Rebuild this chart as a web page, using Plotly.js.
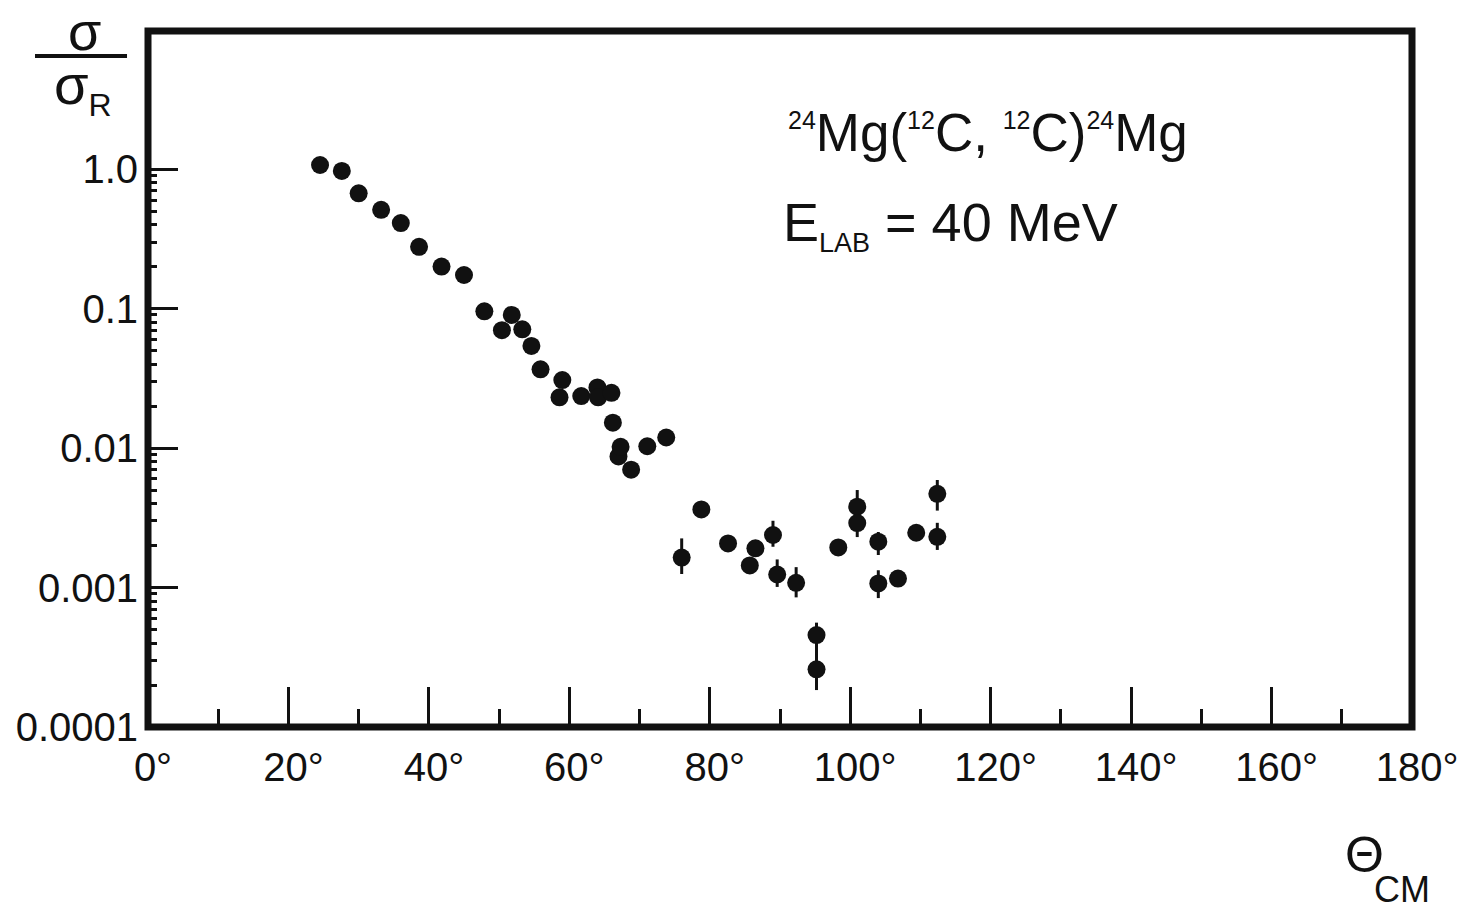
<!DOCTYPE html>
<html>
<head>
<meta charset="utf-8">
<script src="https://cdn.plot.ly/plotly-3.0.1.min.js"></script>
<style>html,body{margin:0;padding:0;background:#fff;}#chart{width:1458px;height:911px;}</style>
</head>
<body>
<div id="chart"></div>
<script>
// Centre-of-mass angle (degrees)
const thetaCM = [24.5, 27.6, 30.0, 33.2, 36.0, 38.6, 41.8, 45.0, 47.9, 50.4, 51.8, 53.3, 54.6, 55.9,
  58.6, 59.0, 61.7, 64.0, 64.1, 66.0, 66.2, 67.0, 67.3, 68.8, 71.1, 73.8,
  76.0, 78.8, 82.6, 85.7, 86.5, 89.0, 89.6, 92.3, 95.2, 95.2, 98.3, 101.0, 101.0,
  104.0, 104.0, 106.8, 109.4, 112.4, 112.4];
// sigma / sigma_Rutherford
const ratio = [1.07, 0.97, 0.67, 0.51, 0.41, 0.277, 0.20, 0.174, 0.0955, 0.070, 0.090, 0.071, 0.054, 0.0367,
  0.0231, 0.0307, 0.0236, 0.0272, 0.0231, 0.0249, 0.0152, 0.0087, 0.0102, 0.0070, 0.0103, 0.0119,
  0.00164, 0.00363, 0.00207, 0.00144, 0.00191, 0.00238, 0.00124, 0.00108, 0.000456, 0.000259, 0.00194, 0.0038, 0.0029,
  0.00213, 0.00107, 0.00116, 0.00247, 0.0047, 0.00231];
// error bars (upper / lower)
const errPlus = [0,0,0,0,0,0,0,0,0,0,0,0,0,0,
  0,0,0,0,0,0,0,0,0,0,0,0,
  0.00061, 0, 0, 0, 0, 0.00063, 0.00035, 0.00032, 0.000104, 0.00007, 0, 0.0012, 0,
  0.00037, 0.00026, 0, 0, 0.0012, 0.0006];
const errMinus = [0,0,0,0,0,0,0,0,0,0,0,0,0,0,
  0,0,0,0,0,0,0,0,0,0,0,0,
  0.00039, 0, 0, 0, 0, 0.00042, 0.00023, 0.00023, 0.00014, 0.000075, 0, 0, 0.0006,
  0.00042, 0.00023, 0, 0, 0.00114, 0.00045];

const xTickVals = [0, 20, 40, 60, 80, 100, 120, 140, 160, 180];
const xTickText = ['0°', '20°', '40°', '60°', '80°', '100°', '120°', '140°', '160°', '180°'];
const yTickVals = [1, 0.1, 0.01, 0.001, 0.0001];
const yTickText = ['1.0', '0.1', '0.01', '0.001', '0.0001'];
const yMinorDecades = [0.0001, 0.001, 0.01, 0.1];
const yMinorDigits = [2, 3, 4, 5, 6, 7, 8, 9];

const S = t => '<sup><span style="font-size:25px">' + t + '</span></sup>';
const reactionLabel = S('24') + 'Mg(' + S('12') + 'C, ' + S('12') + 'C)' + S('24') + 'Mg';
const energyLabel = 'E<sub><span style="font-size:27px">LAB</span></sub> = 40 MeV';

const FONT = 'Liberation Sans, Arial, sans-serif';

const yMinorVals = [];
yMinorDecades.forEach(d => yMinorDigits.forEach(k => yMinorVals.push(d * k)));

const trace = {
  x: thetaCM, y: ratio, type: 'scatter', mode: 'markers',
  marker: {color: '#111', size: 18, line: {width: 0}},
  error_y: {type: 'data', symmetric: false, array: errPlus, arrayminus: errMinus,
            color: '#111', thickness: 3, width: 0},
  hoverinfo: 'x+y'
};

const layout = {
  width: 1458, height: 911,
  margin: {l: 148, r: 46, t: 31, b: 184},
  paper_bgcolor: '#fff', plot_bgcolor: '#fff',
  showlegend: false,
  font: {family: FONT, color: '#111'},
  xaxis: {
    range: [0, 180], showgrid: false, zeroline: false, showline: false,
    tickvals: xTickVals, ticktext: xTickText,
    ticks: 'inside', ticklen: 40, tickwidth: 3, tickcolor: '#111',
    minor: {dtick: 10, tick0: 0, ticks: 'inside', ticklen: 18, tickwidth: 3, tickcolor: '#111', showgrid: false},
    tickfont: {size: 40, family: FONT, color: '#111'},
    ticklabelstandoff: 13,
    ticklabelshift: 5,
    ticklabeloverflow: 'allow'
  },
  yaxis: {
    type: 'log', range: [-4, 0.99], showgrid: false, zeroline: false, showline: false,
    tickvals: yTickVals, ticktext: yTickText,
    ticks: 'inside', ticklen: 30, tickwidth: 3, tickcolor: '#111',
    minor: {tickmode: 'array', tickvals: yMinorVals, ticks: 'inside', ticklen: 9, tickwidth: 3, tickcolor: '#111', showgrid: false},
    tickfont: {size: 40, family: FONT, color: '#111'},
    ticklabelstandoff: 9,
    ticklabeloverflow: 'allow'
  },
  shapes: [
    {type: 'rect', xref: 'paper', yref: 'paper', x0: 0, x1: 1, y0: 0, y1: 1, layer: 'above',
     line: {color: '#111', width: 7}, fillcolor: 'rgba(0,0,0,0)'},
    {type: 'line', xref: 'paper', yref: 'paper', x0: -0.0894, x1: -0.0166, y0: 0.964, y1: 0.964,
     line: {color: '#111', width: 4}}
  ],
  annotations: [
    {x: 90.8, y: 0.26, xref: 'x', yref: 'y', xanchor: 'left', yanchor: 'middle', showarrow: false,
     text: reactionLabel, font: {size: 53, family: FONT, color: '#111'}},
    {x: 90.2, y: -0.40, xref: 'x', yref: 'y', xanchor: 'left', yanchor: 'middle', showarrow: false,
     text: energyLabel, font: {size: 54, family: FONT, color: '#111'}},
    {x: -0.0506, y: 1.0, xref: 'paper', yref: 'paper', xanchor: 'center', yanchor: 'middle', showarrow: false,
     text: 'σ', font: {size: 54, family: FONT, color: '#111'}},
    {x: -0.076, y: 0.918, xref: 'paper', yref: 'paper', xanchor: 'left', yanchor: 'middle', showarrow: false,
     text: 'σ<sub><span style="font-size:32px">R</span></sub>', font: {size: 56, family: FONT, color: '#111'}},
    {x: 0.9628, y: -0.184, xref: 'paper', yref: 'paper', xanchor: 'center', yanchor: 'middle', showarrow: false,
     text: 'Θ', font: {size: 50, family: FONT, color: '#111'}},
    {x: 0.968, y: -0.234, xref: 'paper', yref: 'paper', xanchor: 'left', yanchor: 'middle', showarrow: false,
     text: 'CM', font: {size: 36, family: FONT, color: '#111'}}
  ]
};

Plotly.newPlot('chart', [trace], layout, {displayModeBar: false, staticPlot: true});
</script>
</body>
</html>
